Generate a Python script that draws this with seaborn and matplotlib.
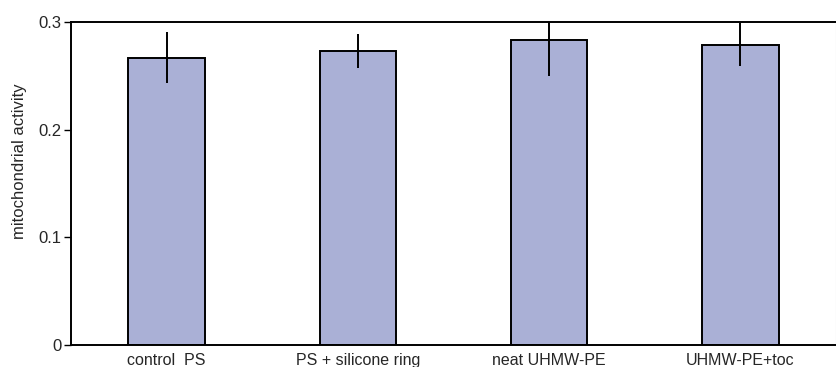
import matplotlib
matplotlib.use("Agg")
import matplotlib.pyplot as plt
import seaborn as sns
import pandas as pd

groups = ["control  PS", "PS + silicone ring", "neat UHMW-PE", "UHMW-PE+toc"]
activity = [0.267, 0.273, 0.283, 0.279]
sd = [0.024, 0.016, 0.033, 0.020]

df = pd.DataFrame({"group": groups, "activity": activity})

sns.set_style("white")
plt.rcParams["font.family"] = ["Liberation Sans", "DejaVu Sans"]

fig = plt.figure(figsize=(8.37, 3.67), dpi=100)
ax = fig.add_axes([71 / 837, 1 - 345 / 367, 765 / 837, 323 / 367])

sns.barplot(data=df, x="group", y="activity", color="#aab0d6", saturation=1,
            width=0.4, edgecolor="black", linewidth=1.4, errorbar=None, ax=ax)
ax.errorbar(range(len(groups)), activity, yerr=sd, fmt="none",
            ecolor="black", elinewidth=1.4, capsize=0, clip_on=True)

ax.set_xlim(-0.5, 3.5)
ax.set_ylim(0, 0.3)
ax.set_yticks([0, 0.1, 0.2, 0.3])
ax.set_yticklabels(["0", "0.1", "0.2", "0.3"])
ax.set_xlabel("")
ax.set_ylabel("mitochondrial activity", fontsize=12)
ax.yaxis.set_label_coords(-0.058, 0.57)
ax.tick_params(axis="y", length=5, width=1, color="black", labelsize=12, pad=2, left=True)
ax.tick_params(axis="x", length=0, labelsize=11.5, pad=6)
for side in ["left", "top", "bottom"]:
    ax.spines[side].set_color("black")
    ax.spines[side].set_linewidth(1.4)
ax.spines["right"].set_color("#cccccc")
ax.spines["right"].set_linewidth(0.8)

fig.savefig("out.png", dpi=100)
